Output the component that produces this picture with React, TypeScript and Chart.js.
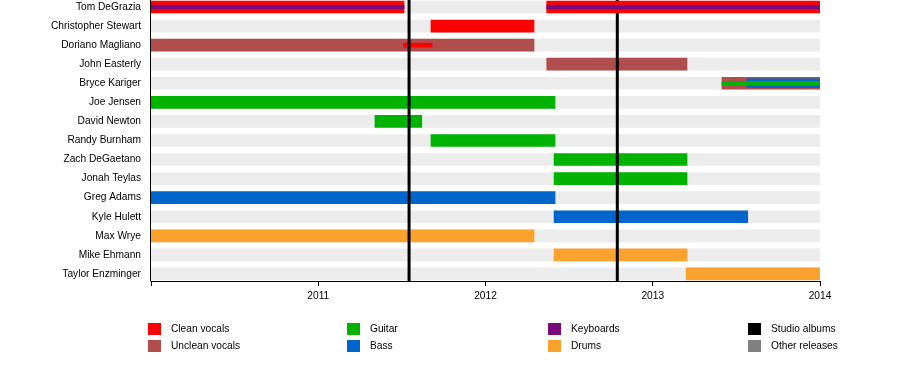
import React, { useEffect, useRef } from "react";
import { Chart, registerables } from "chart.js";

Chart.register(...registerables);

// ---- data ----
const members = [
  "Tom DeGrazia",
  "Christopher Stewart",
  "Doriano Magliano",
  "John Easterly",
  "Bryce Kariger",
  "Joe Jensen",
  "David Newton",
  "Randy Burnham",
  "Zach DeGaetano",
  "Jonah Teylas",
  "Greg Adams",
  "Kyle Hulett",
  "Max Wrye",
  "Mike Ehmann",
  "Taylor Enzminger",
];

const yearTicks = [2010, 2011, 2012, 2013, 2014];
const timelineStart = 2010;
const timelineEnd = 2014;

// [member, start, end]
const cleanVocals: [string, number, number][] = [
  ["Tom DeGrazia", 2010, 2011.513],
  ["Tom DeGrazia", 2012.366, 2014],
  ["Christopher Stewart", 2011.674, 2012.29],
];
const cleanVocalsStripe: [string, number, number][] = [
  ["Doriano Magliano", 2011.51, 2011.68],
];
const uncleanVocals: [string, number, number][] = [
  ["Doriano Magliano", 2010, 2012.29],
  ["John Easterly", 2012.366, 2013.205],
  ["Bryce Kariger", 2013.414, 2014],
];
const guitar: [string, number, number][] = [
  ["Joe Jensen", 2010, 2012.416],
  ["David Newton", 2011.339, 2011.619],
  ["Randy Burnham", 2011.674, 2012.416],
  ["Zach DeGaetano", 2012.41, 2013.205],
  ["Jonah Teylas", 2012.41, 2013.205],
];
const guitarStripe: [string, number, number][] = [
  ["Bryce Kariger", 2013.414, 2014],
];
const bass: [string, number, number][] = [
  ["Greg Adams", 2010, 2012.416],
  ["Kyle Hulett", 2012.41, 2013.568],
];
const bassInner: [string, number, number][] = [
  ["Bryce Kariger", 2013.563, 2014],
];
const keyboards: [string, number, number][] = [
  ["Tom DeGrazia", 2010, 2011.513],
  ["Tom DeGrazia", 2012.366, 2014],
];
const drums: [string, number, number][] = [
  ["Max Wrye", 2010, 2012.29],
  ["Mike Ehmann", 2012.41, 2013.205],
  ["Taylor Enzminger", 2013.2, 2014],
];
const studioAlbums = [2011.543, 2012.788];

const legendLabels = [
  "Clean vocals",
  "Unclean vocals",
  "Guitar",
  "Bass",
  "Keyboards",
  "Drums",
  "Studio albums",
  "Other releases",
];
const legendColors = [
  "#ff0000",
  "#b04e4e",
  "#00b300",
  "#0066cc",
  "#7a0a7a",
  "#fba12e",
  "#000000",
  "#808080",
];

const C_CLEAN = legendColors[0];
const C_UNCLEAN = legendColors[1];
const C_GUITAR = legendColors[2];
const C_BASS = legendColors[3];
const C_KEYS = legendColors[4];
const C_DRUMS = legendColors[5];
const C_ALBUM = legendColors[6];
const C_BG = "#ececec";

const FONT = "'Liberation Sans', Arial, Helvetica, sans-serif";

function toPoints(list: [string, number, number][]) {
  return list.map(([m, s, e]) => ({ x: [s, e], y: members.indexOf(m) }));
}

export default function App() {
  const ref = useRef<HTMLCanvasElement | null>(null);

  useEffect(() => {
    if (!ref.current) return;

    const mk = (
      label: string,
      list: [string, number, number][],
      color: string,
      thickness: number,
      order: number,
      extra: any = {}
    ) => ({
      label,
      data: toPoints(list) as any,
      backgroundColor: color,
      borderWidth: 0,
      barThickness: thickness,
      grouped: false,
      order,
      ...extra,
    });

    const bgList: [string, number, number][] = members.map(
      (m) => [m, timelineStart, timelineEnd] as [string, number, number]
    );

    const linesPlugin = {
      id: "albumLines",
      afterDatasetDraw(chart: any, args: any) {
        const ds = chart.data.datasets[args.index];
        if (!ds || !ds.linesAfter) return;
        const { ctx, chartArea, scales } = chart;
        ctx.save();
        ctx.strokeStyle = C_ALBUM;
        ctx.lineWidth = 3;
        for (const v of studioAlbums) {
          const x = scales.x.getPixelForValue(v);
          ctx.beginPath();
          ctx.moveTo(x, chartArea.top);
          ctx.lineTo(x, chartArea.bottom);
          ctx.stroke();
        }
        ctx.restore();
      },
      afterDatasetsDraw(chart: any) {
        const { ctx, chartArea } = chart;
        ctx.save();
        ctx.strokeStyle = "#000";
        ctx.lineWidth = 1;
        ctx.beginPath();
        ctx.moveTo(chartArea.left - 0.5, chartArea.top);
        ctx.lineTo(chartArea.left - 0.5, chartArea.bottom + 0.5);
        ctx.stroke();
        ctx.restore();
      },
    };

    const chart = new Chart(ref.current, {
      type: "bar",
      data: {
        datasets: [
          mk("Background", bgList, C_BG, 12, 20),
          mk("Unclean vocals", uncleanVocals, C_UNCLEAN, 12, 19),
          mk("Guitar", guitar, C_GUITAR, 12, 18),
          mk("Bass", bass, C_BASS, 12, 17),
          mk("Drums", drums, C_DRUMS, 12, 16),
          mk("Bass (inner)", bassInner, C_BASS, 9, 15),
          mk("Guitar (stripe)", guitarStripe, C_GUITAR, 4, 14),
          mk("Clean vocals (stripe)", cleanVocalsStripe, C_CLEAN, 4, 13, {
            linesAfter: true,
          }),
          mk("Clean vocals", cleanVocals, C_CLEAN, 12, 5),
          mk("Keyboards", keyboards, C_KEYS, 4, 4),
        ] as any,
      },
      options: {
        indexAxis: "y",
        animation: false,
        responsive: false,
        maintainAspectRatio: false,
        layout: { padding: { left: 0, right: 80, top: 0, bottom: 79 } },
        plugins: {
          legend: { display: false },
          tooltip: { enabled: false },
        },
        scales: {
          x: {
            type: "linear",
            min: timelineStart,
            max: timelineEnd,
            afterBuildTicks: (scale: any) => {
              scale.ticks = yearTicks.map((v) => ({ value: v }));
            },
            afterFit: (scale: any) => {
              scale.height = 20;
              scale.paddingLeft = 0;
              scale.paddingRight = 0;
            },
            ticks: {
              autoSkip: false,
              maxRotation: 0,
              padding: 4,
              color: "#000",
              font: { family: FONT, size: 10.2 },
              callback: (v: any) => (v === timelineStart ? "" : String(v)),
            },
            grid: {
              display: true,
              drawOnChartArea: false,
              drawTicks: true,
              tickLength: 5,
              color: "#000",
            },
            border: { display: true, color: "#000", width: 1 },
          },
          y: {
            type: "linear",
            reverse: true,
            offset: false,
            min: -0.367,
            max: 14.37,
            afterBuildTicks: (scale: any) => {
              scale.ticks = members.map((_, i) => ({ value: i }));
            },
            afterFit: (scale: any) => {
              scale.width = 151;
              scale.paddingTop = 0;
              scale.paddingBottom = 0;
            },
            ticks: {
              autoSkip: false,
              padding: 10,
              color: "#000",
              font: { family: FONT, size: 10.2 },
              callback: (v: any) => members[v] ?? "",
            },
            grid: { display: false, drawTicks: false, offset: false },
            border: { display: false },
          },
        },
      } as any,
      plugins: [linesPlugin],
    });

    return () => chart.destroy();
  }, []);

  const colX = [148, 347, 548, 748];
  const rowY = [323, 340];

  return (
    <div
      style={{
        position: "fixed",
        left: 0,
        top: 0,
        width: 900,
        height: 380,
        background: "#fff",
        overflow: "hidden",
      }}
    >
      <canvas
        ref={ref}
        width={900}
        height={380}
        style={{ position: "absolute", left: 0, top: 0, width: 900, height: 380 }}
      />
      {legendLabels.map((label, i) => {
        const c = Math.floor(i / 2);
        const r = i % 2;
        return (
          <div
            key={label}
            style={{
              position: "absolute",
              left: colX[c],
              top: rowY[r],
              height: 12,
              display: "flex",
              alignItems: "center",
              fontFamily: FONT,
              fontSize: 10.2,
              color: "#000",
              whiteSpace: "nowrap",
            }}
          >
            <span
              style={{
                display: "inline-block",
                width: 13,
                height: 12,
                background: legendColors[i],
                marginRight: 10,
              }}
            />
            <span style={{ lineHeight: "12px" }}>{label}</span>
          </div>
        );
      })}
    </div>
  );
}
